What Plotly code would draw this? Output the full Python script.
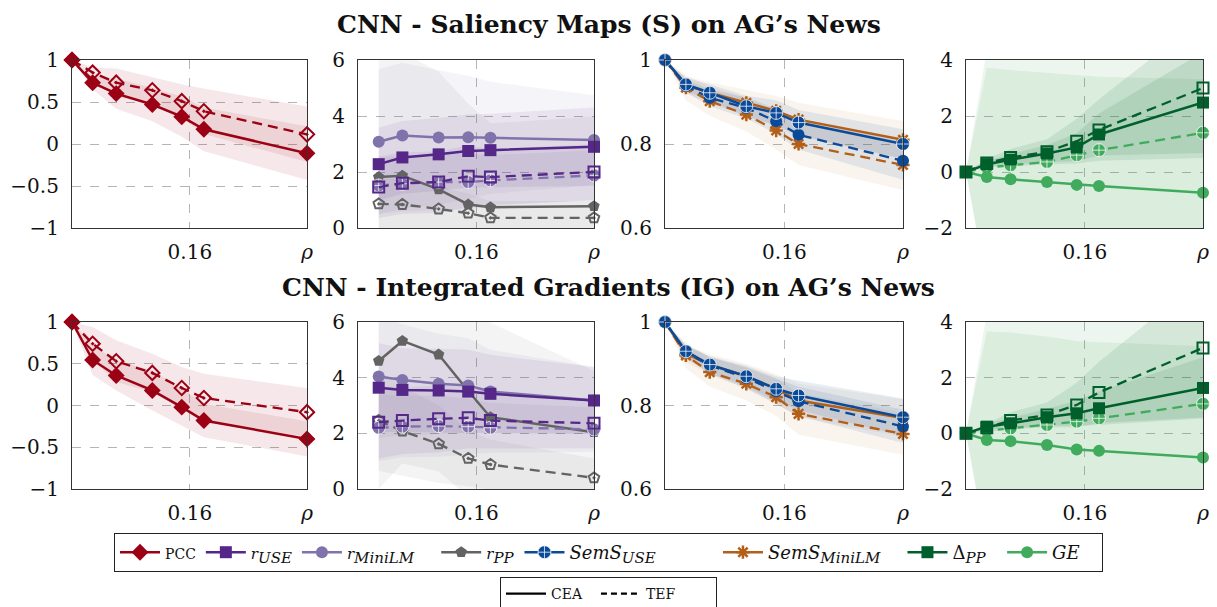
import plotly.graph_objects as go

# ---------------- data ----------------
rho = [0, 0.028, 0.06, 0.109, 0.149, 0.179, 0.319]
rho_ratio = rho[1:]
x_tick_vals = [0.16, 0.319]
x_tick_text = ["0.16", "<i>ρ</i>"]

# Saliency maps (S)
S_PCC_CEA = [1.0, 0.73, 0.60, 0.47, 0.325, 0.175, -0.11]
S_PCC_TEF = [1.0, 0.85, 0.73, 0.64, 0.51, 0.39, 0.115]
S_PCC_CEA_SD = [0, 0.08, 0.18, 0.20, 0.24, 0.26, 0.32]
S_PCC_TEF_SD = [0, 0.06, 0.17, 0.16, 0.20, 0.27, 0.33]

S_rUSE_CEA = [2.28, 2.52, 2.63, 2.75, 2.78, 2.90]
S_rMiniLM_CEA = [3.08, 3.30, 3.23, 3.24, 3.22, 3.14]
S_rPP_CEA = [1.82, 1.87, 1.38, 0.84, 0.74, 0.78]
S_rUSE_TEF = [1.46, 1.60, 1.64, 1.85, 1.82, 2.00]
S_rMiniLM_TEF = [1.52, 1.58, 1.64, 1.64, 1.70, 1.88]
S_rPP_TEF = [0.86, 0.84, 0.68, 0.53, 0.36, 0.36]
S_rUSE_CEA_SD = [1.3, 1.3, 1.3, 1.3, 1.3, 1.4]
S_rMiniLM_CEA_SD = [2.6, 2.6, 2.4, 2.2, 2.0, 1.6]
S_rPP_CEA_SD = [4.5, 4.4, 4.2, 3.6, 3.0, 3.2]
S_rUSE_TEF_SD = [1.1, 1.1, 1.1, 1.1, 1.0, 1.0]
S_rMiniLM_TEF_SD = [1.0, 1.0, 1.0, 1.0, 0.9, 0.9]
S_rPP_TEF_SD = [0.9, 0.9, 0.8, 0.7, 0.6, 0.6]

S_SemUSE_CEA = [1.0, 0.942, 0.922, 0.890, 0.874, 0.851, 0.800]
S_SemMini_CEA = [1.0, 0.940, 0.922, 0.898, 0.879, 0.858, 0.810]
S_SemUSE_TEF = [1.0, 0.938, 0.910, 0.886, 0.854, 0.822, 0.760]
S_SemMini_TEF = [1.0, 0.934, 0.902, 0.870, 0.832, 0.800, 0.750]
S_SemUSE_CEA_SD = [0, 0.015, 0.020, 0.025, 0.030, 0.030, 0.035]
S_SemMini_CEA_SD = [0, 0.020, 0.025, 0.030, 0.035, 0.040, 0.045]
S_SemUSE_TEF_SD = [0, 0.015, 0.020, 0.025, 0.030, 0.035, 0.045]
S_SemMini_TEF_SD = [0, 0.030, 0.035, 0.040, 0.045, 0.050, 0.060]

S_dPP_CEA = [0, 0.28, 0.44, 0.66, 0.88, 1.34, 2.48]
S_dPP_TEF = [0, 0.32, 0.52, 0.72, 1.10, 1.50, 3.00]
S_GE_CEA = [0, -0.18, -0.26, -0.36, -0.46, -0.50, -0.74]
S_GE_TEF = [0, 0.16, 0.24, 0.36, 0.60, 0.78, 1.40]
S_dPP_CEA_SD = [0, 0.10, 0.20, 0.30, 0.50, 0.75, 1.80]
S_dPP_TEF_SD = [0, 0.15, 0.30, 0.45, 0.80, 1.10, 2.50]
S_GE_CEA_SD = [0, 3.90, 3.90, 3.90, 3.90, 3.90, 4.05]
S_GE_TEF_SD = [0, 4.20, 4.20, 4.10, 3.90, 3.80, 3.50]

# Integrated gradients (IG)
IG_PCC_CEA = [1.0, 0.545, 0.36, 0.18, -0.02, -0.18, -0.40]
IG_PCC_TEF = [1.0, 0.74, 0.53, 0.39, 0.21, 0.09, -0.08]
IG_PCC_CEA_SD = [0, 0.18, 0.18, 0.24, 0.22, 0.20, 0.21]
IG_PCC_TEF_SD = [0, 0.20, 0.25, 0.23, 0.25, 0.29, 0.29]

IG_rUSE_CEA = [3.64, 3.56, 3.54, 3.50, 3.42, 3.18]
IG_rMiniLM_CEA = [4.04, 3.92, 3.78, 3.72, 3.50, 3.18]
IG_rPP_CEA = [4.60, 5.32, 4.83, 3.52, 2.58, 2.04]
IG_rUSE_TEF = [2.40, 2.46, 2.52, 2.56, 2.46, 2.36]
IG_rMiniLM_TEF = [2.20, 2.24, 2.26, 2.24, 2.20, 2.14]
IG_rPP_TEF = [2.46, 2.08, 1.62, 1.10, 0.88, 0.40]
IG_rUSE_CEA_SD = [1.6, 1.5, 1.5, 1.5, 1.4, 1.2]
IG_rMiniLM_CEA_SD = [2.2, 2.0, 1.8, 1.7, 1.5, 1.2]
IG_rPP_CEA_SD = [4.6, 4.4, 4.2, 3.8, 3.4, 2.2]
IG_rUSE_TEF_SD = [1.3, 1.2, 1.2, 1.1, 1.0, 0.9]
IG_rMiniLM_TEF_SD = [1.2, 1.1, 1.1, 1.0, 0.9, 0.8]
IG_rPP_TEF_SD = [1.8, 1.6, 1.4, 1.0, 0.9, 0.7]

IG_SemUSE_CEA = [1.0, 0.930, 0.898, 0.870, 0.840, 0.824, 0.772]
IG_SemMini_CEA = [1.0, 0.924, 0.898, 0.870, 0.840, 0.812, 0.770]
IG_SemUSE_TEF = [1.0, 0.928, 0.896, 0.866, 0.834, 0.810, 0.750]
IG_SemMini_TEF = [1.0, 0.920, 0.880, 0.852, 0.820, 0.780, 0.732]
IG_SemUSE_CEA_SD = [0, 0.015, 0.020, 0.025, 0.030, 0.035, 0.045]
IG_SemMini_CEA_SD = [0, 0.020, 0.025, 0.030, 0.035, 0.040, 0.045]
IG_SemUSE_TEF_SD = [0, 0.015, 0.020, 0.025, 0.030, 0.035, 0.040]
IG_SemMini_TEF_SD = [0, 0.030, 0.035, 0.040, 0.045, 0.050, 0.050]

IG_dPP_CEA = [0, 0.24, 0.36, 0.58, 0.72, 0.90, 1.63]
IG_dPP_TEF = [0, 0.20, 0.46, 0.66, 1.02, 1.47, 3.07]
IG_GE_CEA = [0, -0.24, -0.28, -0.42, -0.58, -0.63, -0.87]
IG_GE_TEF = [0, 0.10, 0.18, 0.30, 0.42, 0.54, 1.06]
IG_dPP_CEA_SD = [0, 0.10, 0.20, 0.30, 0.45, 0.60, 1.10]
IG_dPP_TEF_SD = [0, 0.15, 0.30, 0.45, 0.80, 1.10, 2.50]
IG_GE_CEA_SD = [0, 3.90, 3.90, 3.90, 3.90, 3.90, 4.00]
IG_GE_TEF_SD = [0, 4.20, 4.20, 4.10, 3.90, 3.80, 3.50]

titles = ["CNN - Saliency Maps (S) on AG’s News",
          "CNN - Integrated Gradients (IG) on AG’s News"]

# ---------------- styles ----------------
C = {
    "PCC": "#9B0014", "rUSE": "#542788", "rMiniLM": "#8073AC", "rPP": "#636363",
    "SemUSE": "#0A4A98", "SemMini": "#B35F17", "dPP": "#00602C", "GE": "#41AB5D",
}
SYM = {
    "PCC": ("diamond", "diamond-open-dot"),
    "rUSE": ("square", "square-open"),
    "rMiniLM": ("circle", "circle-cross"),
    "rPP": ("pentagon", "pentagon-open-dot"),
    "SemUSE": ("circle-cross", "circle"),
    "SemMini": ("asterisk-open", "asterisk-open"),
    "dPP": ("square", "square-open"),
    "GE": ("circle", "circle-cross"),
}
SUB = "<sub><span style='font-size:15px'><i>{}</i></span></sub>"
NB = "\u00a0"
LABEL = {
    "PCC": "<span style='font-size:14px'>PCC</span>",
    "rUSE": "<span style='font-size:15px'><i>r</i></span>" + SUB.format("USE"),
    "rMiniLM": "<span style='font-size:15px'><i>r</i></span>" + SUB.format("MiniLM") + NB * 3,
    "rPP": "<span style='font-size:15px'><i>r</i></span>" + SUB.format("PP"),
    "SemUSE": "<i>SemS</i>" + SUB.format("USE") + NB * 10,
    "SemMini": "<i>SemS</i>" + SUB.format("MiniLM") + NB * 3,
    "dPP": "Δ" + SUB.format("PP") + NB * 2,
    "GE": "<i>GE</i>" + NB * 3,
}
BAND_ALPHA = {"PCC": 0.09, "rUSE": 0.08, "rMiniLM": 0.08, "rPP": 0.07,
              "SemUSE": 0.10, "SemMini": 0.07, "dPP": 0.10, "GE": 0.10}


def rgba(hexc, a):
    h = hexc.lstrip("#")
    r, g, b = int(h[0:2], 16), int(h[2:4], 16), int(h[4:6], 16)
    return f"rgba({r},{g},{b},{a})"


def marker_for(key, variant):
    sym = SYM[key][0 if variant == "CEA" else 1]
    col = C[key]
    m = dict(symbol=sym, size=12, color=col, line=dict(width=0, color=col))
    if "open" in sym:
        m["line"] = dict(width=2, color=col)
        m["size"] = 11
    if sym == "circle-cross":
        m["line"] = dict(width=1, color="rgba(255,255,255,0.75)")
        m["size"] = 13
    if sym == "diamond":
        m["size"] = 13
    if sym.startswith("asterisk"):
        m["size"] = 11
        m["line"] = dict(width=2.5, color=col)
    return m


fig = go.Figure()
W, H = 1217, 607
cols = [(72, 307), (358, 594), (665, 903), (966, 1203)]
rows = [(60, 228), (322, 489)]

panels = [
    (0, 0, [("PCC", rho, S_PCC_CEA, S_PCC_CEA_SD, S_PCC_TEF, S_PCC_TEF_SD)]),
    (0, 1, [("rPP", rho_ratio, S_rPP_CEA, S_rPP_CEA_SD, S_rPP_TEF, S_rPP_TEF_SD),
            ("rMiniLM", rho_ratio, S_rMiniLM_CEA, S_rMiniLM_CEA_SD, S_rMiniLM_TEF, S_rMiniLM_TEF_SD),
            ("rUSE", rho_ratio, S_rUSE_CEA, S_rUSE_CEA_SD, S_rUSE_TEF, S_rUSE_TEF_SD)]),
    (0, 2, [("SemMini", rho, S_SemMini_CEA, S_SemMini_CEA_SD, S_SemMini_TEF, S_SemMini_TEF_SD),
            ("SemUSE", rho, S_SemUSE_CEA, S_SemUSE_CEA_SD, S_SemUSE_TEF, S_SemUSE_TEF_SD)]),
    (0, 3, [("GE", rho, S_GE_CEA, S_GE_CEA_SD, S_GE_TEF, S_GE_TEF_SD),
            ("dPP", rho, S_dPP_CEA, S_dPP_CEA_SD, S_dPP_TEF, S_dPP_TEF_SD)]),
    (1, 0, [("PCC", rho, IG_PCC_CEA, IG_PCC_CEA_SD, IG_PCC_TEF, IG_PCC_TEF_SD)]),
    (1, 1, [("rPP", rho_ratio, IG_rPP_CEA, IG_rPP_CEA_SD, IG_rPP_TEF, IG_rPP_TEF_SD),
            ("rMiniLM", rho_ratio, IG_rMiniLM_CEA, IG_rMiniLM_CEA_SD, IG_rMiniLM_TEF, IG_rMiniLM_TEF_SD),
            ("rUSE", rho_ratio, IG_rUSE_CEA, IG_rUSE_CEA_SD, IG_rUSE_TEF, IG_rUSE_TEF_SD)]),
    (1, 2, [("SemMini", rho, IG_SemMini_CEA, IG_SemMini_CEA_SD, IG_SemMini_TEF, IG_SemMini_TEF_SD),
            ("SemUSE", rho, IG_SemUSE_CEA, IG_SemUSE_CEA_SD, IG_SemUSE_TEF, IG_SemUSE_TEF_SD)]),
    (1, 3, [("GE", rho, IG_GE_CEA, IG_GE_CEA_SD, IG_GE_TEF, IG_GE_TEF_SD),
            ("dPP", rho, IG_dPP_CEA, IG_dPP_CEA_SD, IG_dPP_TEF, IG_dPP_TEF_SD)]),
]

y_axes_cfg = [
    ([-1, 1], [-1, -0.5, 0, 0.5, 1], ["−1", "−0.5", "0", "0.5", "1"]),
    ([0, 6], [0, 2, 4, 6], ["0", "2", "4", "6"]),
    ([0.6, 1.0], [0.6, 0.8, 1.0], ["0.6", "0.8", "1"]),
    ([-2, 4], [-2, 0, 2, 4], ["−2", "0", "2", "4"]),
]

FONT = "DejaVu Serif"
tickfont = dict(family=FONT, size=20, color="#111")

for idx, (r, c, series) in enumerate(panels, start=1):
    xa, ya = f"x{idx}", f"y{idx}"
    for key, xs, cea, cea_sd, tef, tef_sd in series:
        for vals, sd in ((tef, tef_sd), (cea, cea_sd)):
            up = [v + s for v, s in zip(vals, sd)]
            lo = [v - s for v, s in zip(vals, sd)]
            fig.add_trace(go.Scatter(
                x=list(xs) + list(xs)[::-1], y=up + lo[::-1], fill="toself",
                fillcolor=rgba(C[key], BAND_ALPHA[key]), line=dict(width=0),
                mode="lines", hoverinfo="skip", showlegend=False, xaxis=xa, yaxis=ya))
    for key, xs, cea, cea_sd, tef, tef_sd in series:
        fig.add_trace(go.Scatter(
            x=xs, y=tef, mode="lines+markers", line=dict(color=C[key], width=2.3, dash="10px,6px"),
            marker=marker_for(key, "TEF"), cliponaxis=False, showlegend=False, xaxis=xa, yaxis=ya))
        fig.add_trace(go.Scatter(
            x=xs, y=cea, mode="lines+markers", line=dict(color=C[key], width=2.5),
            marker=marker_for(key, "CEA"), cliponaxis=False, showlegend=False, xaxis=xa, yaxis=ya))

    yr, yt, ytt = y_axes_cfg[c]
    sfx = "" if idx == 1 else str(idx)
    fig.layout[f"xaxis{sfx}"] = dict(
        domain=[cols[c][0] / W, cols[c][1] / W], anchor=ya, range=[0, 0.319],
        tickvals=x_tick_vals, ticktext=x_tick_text, tickfont=tickfont, ticks="",
        showgrid=True, gridcolor="#b5b5b5", griddash="dash", gridwidth=1,
        showline=True, mirror=True, linecolor="#333", linewidth=1.2, zeroline=False,
        ticklabelstandoff=6, automargin=False)
    fig.layout[f"yaxis{sfx}"] = dict(
        domain=[1 - rows[r][1] / H, 1 - rows[r][0] / H], anchor=xa, range=yr,
        tickvals=yt, ticktext=ytt, tickfont=tickfont, ticks="",
        showgrid=True, gridcolor="#b5b5b5", griddash="dash", gridwidth=1,
        showline=True, mirror=True, linecolor="#333", linewidth=1.2, zeroline=False,
        ticklabelstandoff=8, automargin=False)

for key in ["PCC", "rUSE", "rMiniLM", "rPP", "SemUSE", "SemMini", "dPP", "GE"]:
    fig.add_trace(go.Scatter(
        x=[None], y=[None], mode="lines+markers", name=LABEL[key],
        line=dict(color=C[key], width=2.5), marker=marker_for(key, "CEA"),
        legend="legend", showlegend=True))
for name, dash in (("CEA" + NB * 2, "solid"), ("TEF" + NB * 8, "6px,4px")):
    fig.add_trace(go.Scatter(
        x=[None], y=[None], mode="lines", name=name,
        line=dict(color="black", width=2.2, dash=dash), legend="legend2", showlegend=True))

annotations = []
for i, t in enumerate(titles):
    yy = 25 if i == 0 else 287
    annotations.append(dict(text=f"<b>{t}</b>", x=0.5, y=1 - yy / H, xref="paper", yref="paper",
                            xanchor="center", yanchor="middle", showarrow=False,
                            font=dict(family=FONT, size=25, color="#111")))

fig.update_layout(
    width=W, height=H, margin=dict(l=0, r=0, t=0, b=0, autoexpand=False),
    paper_bgcolor="white", plot_bgcolor="white",
    annotations=annotations,
    legend=dict(orientation="h", x=0.5, xanchor="center", xref="container",
                y=1 - 533 / H, yanchor="top", yref="container",
                bordercolor="#222", borderwidth=1, bgcolor="white",
                font=dict(family=FONT, size=18, color="#111"), itemwidth=40,
                tracegroupgap=0, traceorder="normal"),
    legend2=dict(orientation="h", x=0.5, xanchor="center", xref="container",
                 y=1 - 577 / H, yanchor="top", yref="container",
                 bordercolor="#222", borderwidth=1, bgcolor="white",
                 font=dict(family=FONT, size=14, color="#111"), itemwidth=40),
    showlegend=True,
)

fig.write_html("out.html")
